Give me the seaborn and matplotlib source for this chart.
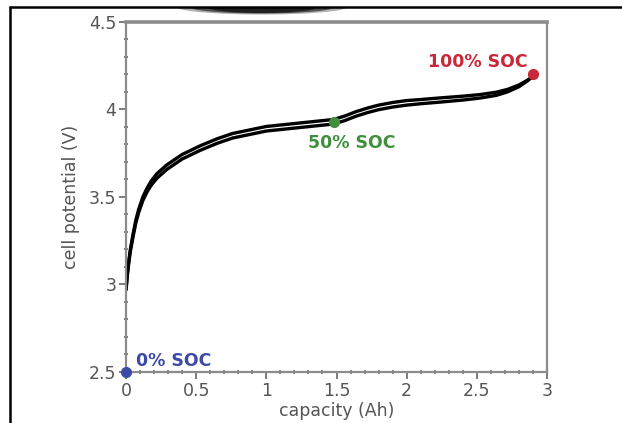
import matplotlib
matplotlib.use("Agg")
import matplotlib.pyplot as plt
import seaborn as sns
import pandas as pd
import numpy as np
from matplotlib.patches import Polygon
from matplotlib.lines import Line2D
from matplotlib.ticker import MultipleLocator

# data
capacity = [0.0, 0.01, 0.02, 0.03, 0.05, 0.07, 0.09, 0.12, 0.15, 0.18, 0.22, 0.29, 0.40, 0.53, 0.65, 0.76, 0.88, 1.00,
            1.12, 1.24, 1.36, 1.48, 1.56, 1.64, 1.72, 1.80, 1.90, 2.00, 2.10, 2.25, 2.40, 2.52, 2.64, 2.72, 2.80, 2.86, 2.90]
potential_mid = [2.97, 3.06, 3.13, 3.19, 3.28, 3.36, 3.42, 3.49, 3.54, 3.58, 3.62, 3.67, 3.73, 3.78, 3.82, 3.85, 3.87, 3.89,
                 3.90, 3.91, 3.92, 3.93, 3.95, 3.975, 3.995, 4.012, 4.027, 4.038, 4.045, 4.055, 4.065, 4.075, 4.09, 4.108, 4.135, 4.165, 4.19]
half_gap = [0.0, 0.002, 0.003, 0.005, 0.007, 0.008, 0.009, 0.010, 0.011, 0.012, 0.013, 0.013, 0.013, 0.013, 0.013, 0.013, 0.013, 0.013,
            0.013, 0.013, 0.013, 0.013, 0.013, 0.013, 0.013, 0.013, 0.013, 0.013, 0.012, 0.012, 0.011, 0.010, 0.009, 0.007, 0.005, 0.002, 0.0]

soc_labels = ["0% SOC", "50% SOC", "100% SOC"]
soc_capacity = [0.0, 1.48, 2.90]
soc_potential = [2.5, 3.93, 4.20]
soc_colors = ["#3c4ba6", "#3f8f3f", "#c8283a"]

x_ticks = [0, 0.5, 1, 1.5, 2, 2.5, 3]
x_tick_labels = ["0", "0.5", "1", "1.5", "2", "2.5", "3"]
y_ticks = [2.5, 3, 3.5, 4, 4.5]
y_tick_labels = ["2.5", "3", "3.5", "4", "4.5"]

sns.set_style("white")
plt.rcParams["font.family"] = ["DejaVu Sans"]

fig = plt.figure(figsize=(6.22, 4.23), dpi=100)
ax = fig.add_axes([0.2026, 0.1206, 0.6768, 0.8274])

rows = []
for c, v, g in zip(capacity, potential_mid, half_gap):
    rows.append({"capacity": c, "potential": v + g, "branch": "charge"})
    rows.append({"capacity": c, "potential": v - g, "branch": "discharge"})
df = pd.DataFrame(rows)

sns.lineplot(data=df, x="capacity", y="potential", units="branch", estimator=None,
             color="black", linewidth=2.4, ax=ax, legend=False, sort=False)

for lab, cx, cy, col in zip(soc_labels, soc_capacity, soc_potential, soc_colors):
    ax.plot([cx], [cy], "o", color=col, markersize=7, clip_on=False, zorder=5)

ax.text(0.07, 2.534, soc_labels[0], color=soc_colors[0], fontsize=12.5, fontweight="bold", ha="left", va="baseline")
ax.text(1.30, 3.81, soc_labels[1], color=soc_colors[1], fontsize=12.5, fontweight="bold", ha="left", va="center")
ax.text(2.15, 4.27, soc_labels[2], color=soc_colors[2], fontsize=12.5, fontweight="bold", ha="left", va="center")

ax.set_xlim(0, 3)
ax.set_ylim(2.5, 4.5)
ax.set_xticks(x_ticks)
ax.set_xticklabels(x_tick_labels)
ax.set_yticks(y_ticks)
ax.set_yticklabels(y_tick_labels)
ax.xaxis.set_minor_locator(MultipleLocator(0.1))
ax.yaxis.set_minor_locator(MultipleLocator(0.1))

gray = "#8c8c8c"
for s in ax.spines.values():
    s.set_color(gray)
    s.set_linewidth(1.6)
ax.spines["top"].set_linewidth(2.6)
ax.tick_params(axis="both", which="major", direction="out", length=5, width=1.2, color="#666666",
               labelsize=12.5, labelcolor="#555555", pad=2, bottom=True, left=True)
ax.tick_params(axis="both", which="minor", direction="inout", length=3, width=1.2, color="#666666",
               bottom=True, left=True)
ax.set_xlabel("capacity (Ah)", fontsize=12.5, color="#555555", labelpad=2)
ax.set_ylabel("cell potential (V)", fontsize=12.5, color="#555555", labelpad=6)

# outer frame lines and top artifact (soft lower half of a dark ellipse under the top border)
t = np.linspace(np.pi, 2 * np.pi, 60)
for rx, ry, a in [(85, 7.5, 0.35), (72, 6.5, 0.65), (55, 6.0, 0.95)]:
    ex = (262 + rx * np.cos(t)) / 622
    ey = 1 - (7 - ry * np.sin(t)) / 423
    fig.add_artist(Polygon(np.column_stack([ex, ey]), closed=True, color="#1e1e1e", alpha=a,
                           linewidth=0, transform=fig.transFigure))
fig.add_artist(Line2D([10 / 622, 1.0], [1 - 7 / 423, 1 - 7 / 423], color="black", linewidth=1.8,
                      transform=fig.transFigure))
fig.add_artist(Line2D([10 / 622, 10 / 622], [0, 1 - 7 / 423], color="black", linewidth=1.8,
                      transform=fig.transFigure))

fig.savefig("out.png", dpi=100)
